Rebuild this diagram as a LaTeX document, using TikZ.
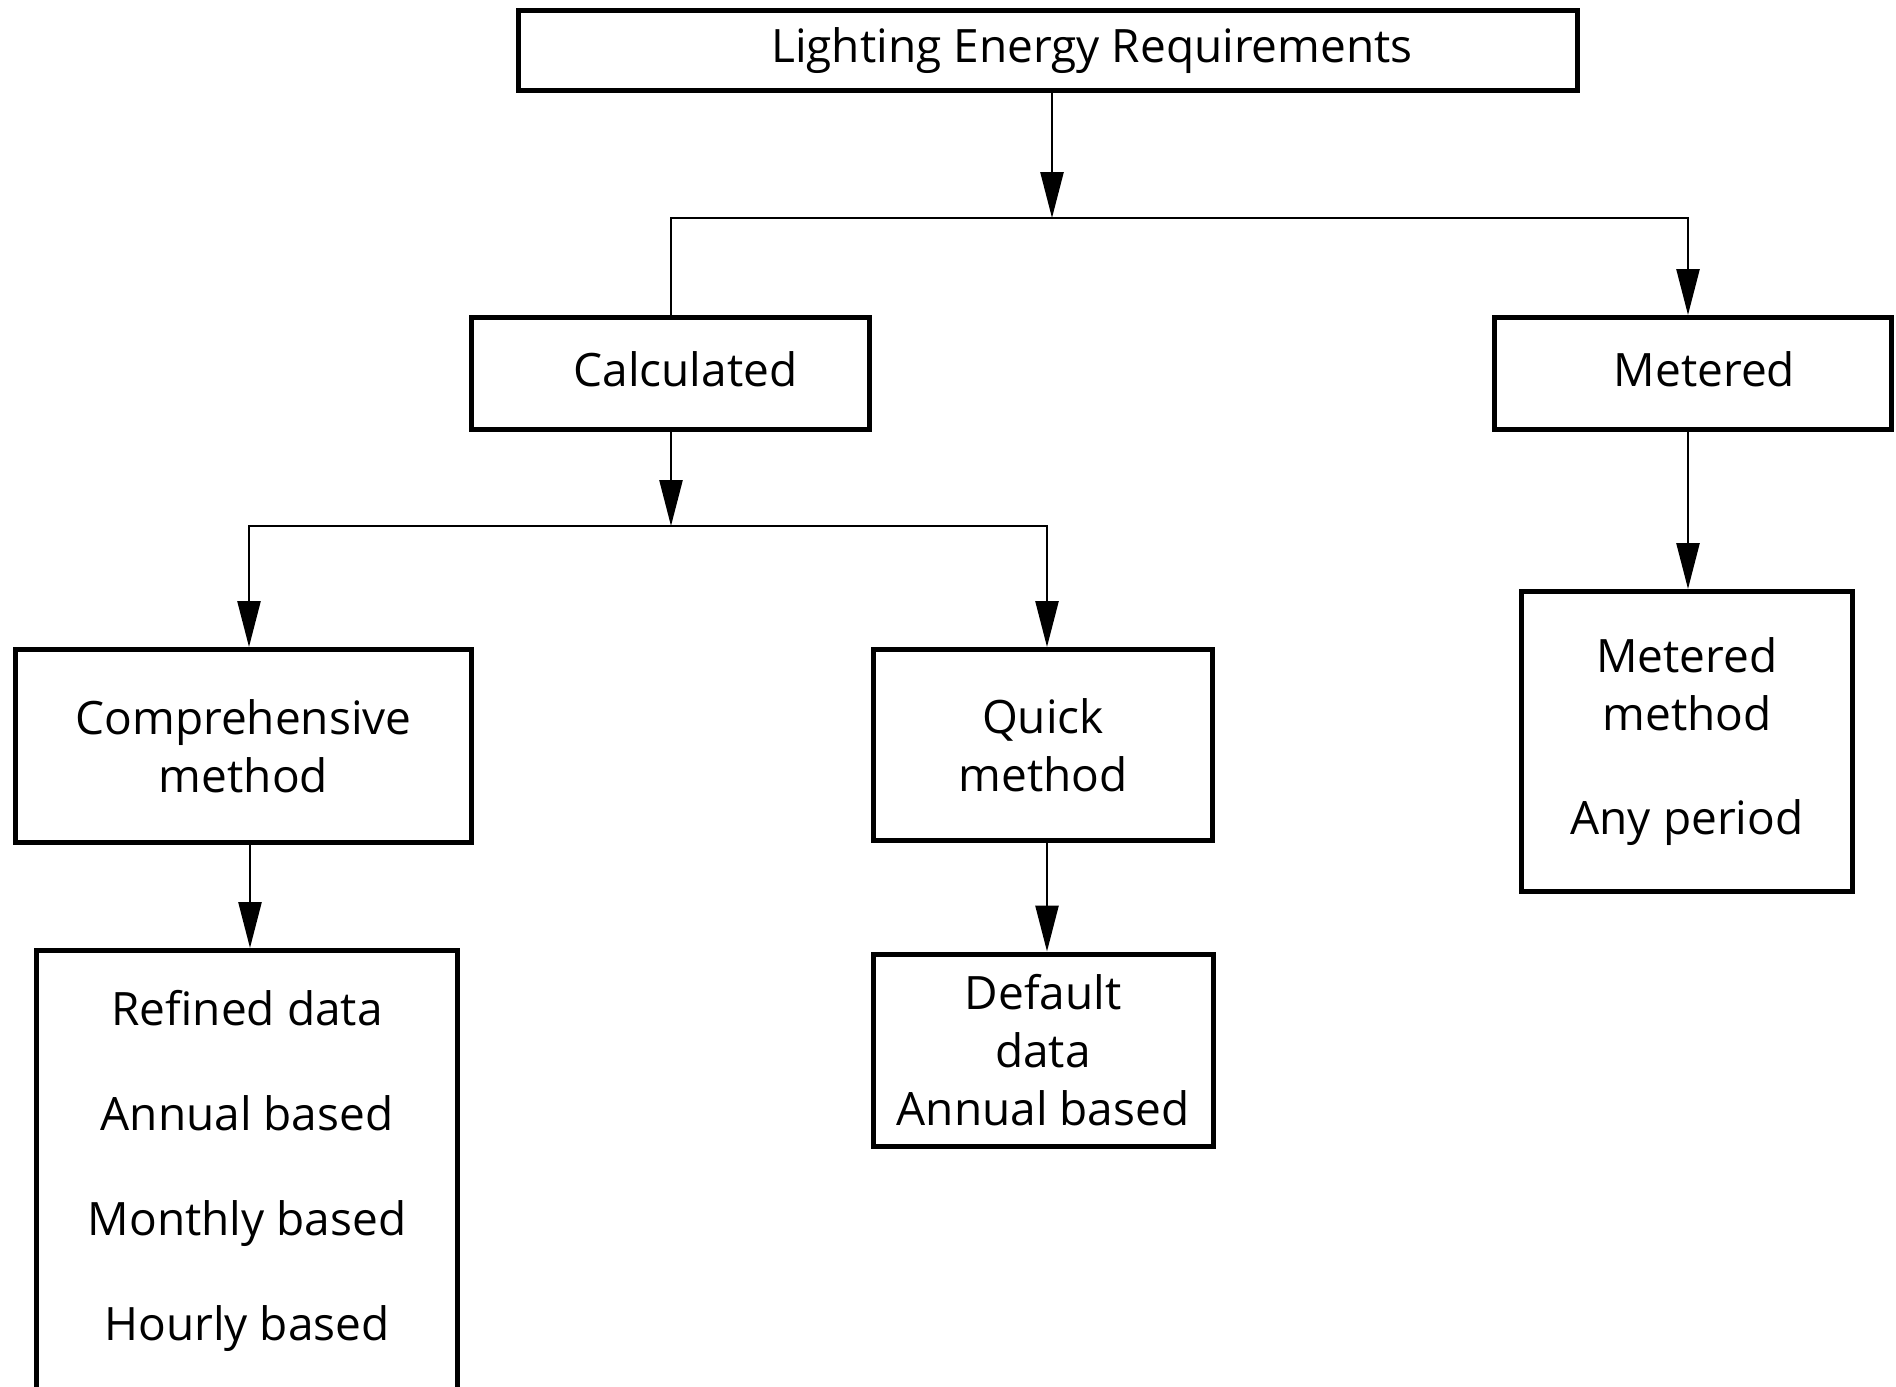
\documentclass[tikz,border=0pt]{standalone}
\usepackage{fontspec}
\setmainfont{Open Sans}
\usetikzlibrary{arrows.meta}
\tikzset{
  >={Triangle[length=46pt,width=23pt]},
  box/.style={draw, line width=5pt, inner sep=0pt, font=\fontsize{46}{58}\selectfont},
  conn/.style={line width=2.6pt}
}
\begin{document}
\begin{tikzpicture}[x=1pt,y=-1pt]
\useasboundingbox (0,0) rectangle (1896,1387);
\clip (0,0) rectangle (1896,1387);

% boxes
\node[box, minimum width=1059pt, minimum height=80pt] (top) at (1048,50.5) {\hspace*{88pt}Lighting Energy Requirements};
\node[box, text depth=9pt, minimum width=398pt, minimum height=112pt] (calc) at (670.5,373.5) {\hspace*{30pt}Calculated};
\node[box, text depth=9pt, minimum width=396.5pt, minimum height=112pt] (met) at (1692.75,373.5) {\hspace*{23.5pt}Metered};
\node[box, minimum width=456pt, minimum height=193pt, align=center] (comp) at (243.5,746) {Comprehensive\\method};
\node[box, minimum width=339pt, minimum height=191pt, align=center] (quick) at (1043,745) {Quick\\method};
\node[box, minimum width=331pt, minimum height=300pt, align=center] (mmeth) at (1687,741.5) {Metered\\method\\[46pt]Any period};
\node[box, draw=none, outer sep=0pt, minimum width=421pt, minimum height=441pt, align=center] (refined) at (247,1171) {Refined data\\[47pt]Annual based\\[47pt]Monthly based\\[47pt]Hourly based};
\node[box, minimum width=340pt, minimum height=192pt, align=center] (default) at (1043,1050) {Default\\data\\Annual based};

% open-bottom outline of the refined box (runs past the lower edge)
\draw[line width=5pt] ([yshift=-40pt]refined.south west) -- (refined.north west) -- (refined.north east) -- ([yshift=-40pt]refined.south east);

% junction coordinates
\coordinate (j1) at (1052,218);
\coordinate (j1l) at (671,218);
\coordinate (j1r) at (1688,218);
\coordinate (j2) at (671,526);
\coordinate (j2l) at (249,526);
\coordinate (j2r) at (1047,526);
\coordinate (c3) at (250,0);
\coordinate (reftop) at ([yshift=2.5pt]refined.north);

% connectors
\draw[conn,->] (top.south -| j1) -- (j1);
\draw[conn,<-] (met.north -| j1r) |- (j1l) -- (calc.north -| j1l);
\draw[conn,->] (calc.south -| j2) -- (j2);
\draw[conn,<->] (comp.north -| j2l) |- (j2r) -- (quick.north -| j2r);
\draw[conn,->] (met.south -| j1r) -- (mmeth.north -| j1r);
\draw[conn,->] (comp.south -| c3) -- (reftop -| c3);
\draw[conn,->] (quick.south -| j2r) -- (default.north -| j2r);
\end{tikzpicture}
\end{document}
